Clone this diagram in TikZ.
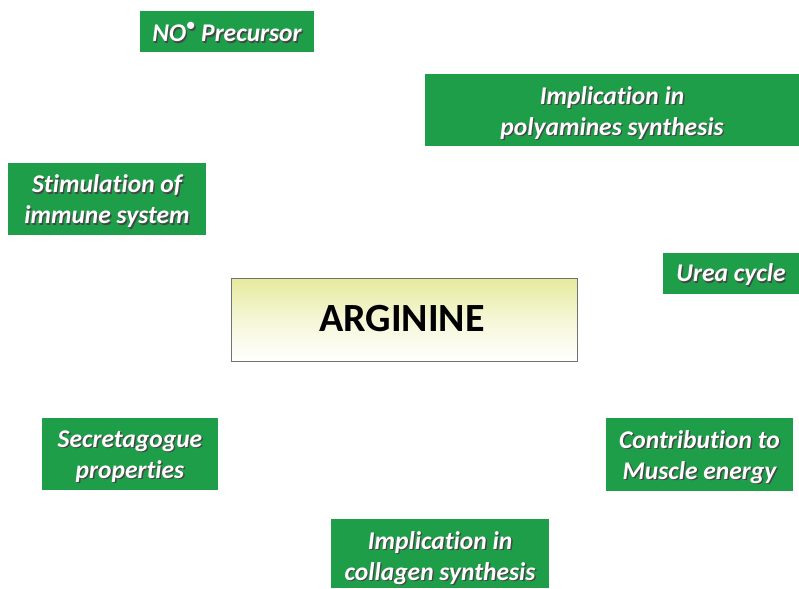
\documentclass[tikz,border=0pt]{standalone}
\usepackage{fontspec}
\setmainfont[Ligatures=NoCommon]{Carlito}
\definecolor{boxgreen}{RGB}{30,158,72}
\definecolor{shade}{RGB}{70,70,70}
\definecolor{argtop}{RGB}{230,234,155}
% white text with a small dark drop shadow
\newcommand\sh[1]{\makebox[0pt][l]{\hspace{1.4pt}\raisebox{-1.4pt}{\color{shade}#1}}#1}
\begin{document}
\begin{tikzpicture}[x=1pt,y=-1pt,
  gtext/.style={inner sep=0pt,text=white,
    font=\fontsize{25.5}{31}\selectfont\bfseries\itshape,align=center}]
\useasboundingbox (0,0) rectangle (799,588);
% green labels around the central box: name, corners, text offset, text
\newcommand\gb[7]{%
  \fill[boxgreen] (#2,#3) rectangle (#4,#5);
  \node[gtext] (#1) at ({(#2+#4)/2},{(#3+#5)/2+#6}) {#7};}
\gb{no}{140}{11}{314}{52}{1.5}{\sh{NO\raisebox{0.42em}{\scalebox{0.75}{$\bullet$}} Precursor}}
\gb{poly}{425}{74}{799}{146}{3.5}{\sh{Implication in}\\\sh{polyamines synthesis}}
\gb{immune}{8}{163}{206}{235}{3}{\sh{Stimulation of}\\\sh{immune system}}
\gb{urea}{663}{253}{799}{294}{2}{\sh{Urea cycle}}
\gb{secr}{42}{418}{218}{490}{3}{\sh{Secretagogue}\\\sh{properties}}
\gb{muscle}{606}{418}{793}{491}{3}{\sh{Contribution to}\\\sh{Muscle energy}}
\gb{coll}{331}{519}{549}{588}{5}{\sh{Implication in}\\\sh{collagen synthesis}}
% central box with a yellow-to-white vertical shading
\shade[top color=argtop,bottom color=white,middle color=white!60!argtop,draw=black!55,line width=0.8pt]
  (231,278) rectangle (577,361);
\node[font=\fontsize{40}{44}\selectfont\bfseries] (arg) at (402,319) {ARGININE};
\end{tikzpicture}
\end{document}
